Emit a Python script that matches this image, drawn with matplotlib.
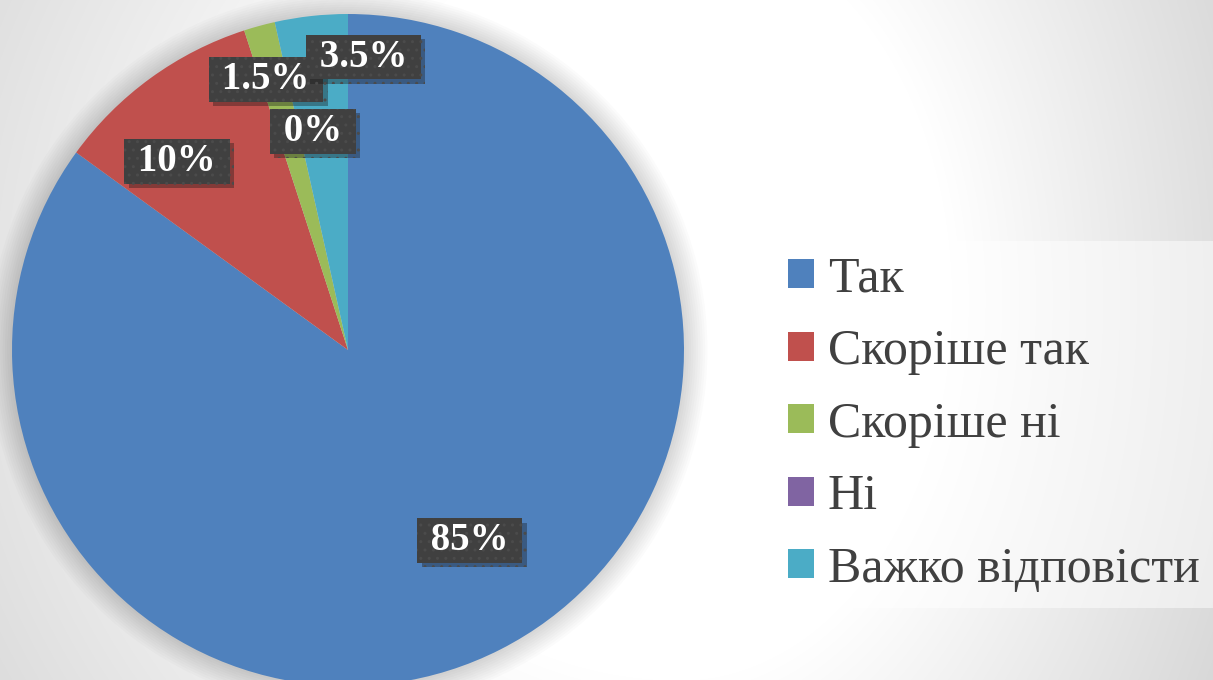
import numpy as np
import matplotlib
matplotlib.use("Agg")
import matplotlib.pyplot as plt
import matplotlib.patheffects as pe
from matplotlib.patches import Circle

# Survey answers (Ukrainian) and their shares, %
categories = ["Так", "Скоріше так", "Скоріше ні", "Ні", "Важко відповісти"]
values = [85, 10, 1.5, 0, 3.5]
value_labels = ["85%", "10%", "1.5%", "0%", "3.5%"]
colors = ["#4f81bd", "#c0504d", "#9bbb59", "#8064a2", "#4bacc6"]

# where the data labels were dragged to (pie data coords)
label_pos = [(0.363, -0.568), (-0.509, 0.562), (-0.244, 0.804),
             (-0.104, 0.651), (0.045, 0.872)]

fig = plt.figure(figsize=(12.13, 6.8), dpi=100)

# background: soft radial grey gradient
bg = fig.add_axes([0, 0, 1, 1])
W, H = 1213, 680
xx, yy = np.meshgrid(np.arange(W), np.arange(H))
dx = xx - 680.0
dx = np.where(dx > 0, dx * 1.4, dx)
dy = yy - 300.0
d = np.sqrt(dx ** 2 + dy ** 2)
shade = 255 - np.clip(d - 380, 0, None) * 0.085
shade = np.clip(shade, 200, 255) / 255.0
bg.imshow(np.dstack([shade] * 3), extent=(0, W, H, 0), aspect="auto")
bg.set_axis_off()

# pie axes: centre at (348, 350) px, radius 336 px
ax = fig.add_axes([12 / W, (680 - 350 - 336) / H, 672 / W, 672 / H])

# soft shadow round the pie
for k in range(10):
    ax.add_patch(Circle((0, 0), 1.0 + 0.007 * (10 - k), color="black",
                        alpha=0.015, lw=0, clip_on=False, zorder=0))

wedges, _ = ax.pie(values, colors=colors, startangle=90, counterclock=False,
                   radius=1.0, wedgeprops=dict(linewidth=0))
for w in wedges:
    w.set_zorder(1)
ax.set_xlim(-1, 1)
ax.set_ylim(-1, 1)
ax.set_aspect("equal")
ax.set_axis_off()

for lab, (x, y) in zip(value_labels, label_pos):
    t = ax.text(x, y, " " + lab + " ", ha="center", va="center",
                family="Liberation Serif", weight="bold", fontsize=28,
                color="white", zorder=5,
                bbox=dict(boxstyle="square,pad=0.1", facecolor="#404040",
                          edgecolor="#4b4b4b", linewidth=0, hatch=".."))
    t.get_bbox_patch().set_path_effects(
        [pe.SimplePatchShadow(offset=(3, -3), alpha=0.35), pe.Normal()])

leg = fig.legend(wedges, categories, loc="upper left",
                 bbox_to_anchor=(773 / W, 1 - 241 / H), borderaxespad=0,
                 prop=dict(family="Liberation Serif", size=36),
                 handlelength=0.52, handleheight=0.52, handletextpad=0.28,
                 labelspacing=0.52, borderpad=0.3, fancybox=False,
                 frameon=True, labelcolor="#404040")
frame = leg.get_frame()
frame.set_facecolor("white")
frame.set_alpha(0.5)
frame.set_linewidth(0)

fig.savefig("out.png", dpi=100)
